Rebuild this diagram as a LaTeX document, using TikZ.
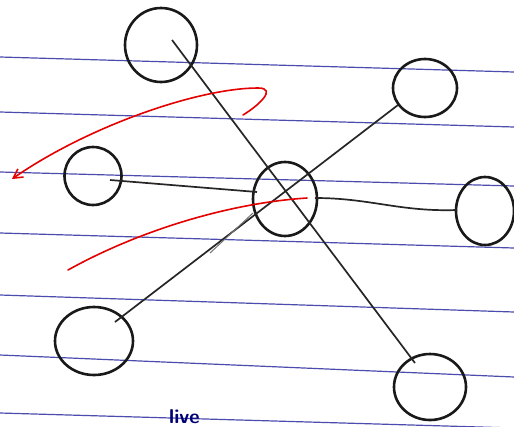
\documentclass[tikz,border=0pt]{standalone}
\usetikzlibrary{shapes.geometric,arrows.meta}
\begin{document}
\begin{tikzpicture}[x=1pt,y=-1pt,
  ruled/.style={draw=blue!55!black!70, line width=1.2pt},
  bubble/.style={draw=black!90, line width=2.6pt, ellipse, inner sep=0pt},
  spoke/.style={draw=black!85, line width=1.7pt},
  redpen/.style={draw=red!90!black, line width=1.6pt, line cap=round}]
\useasboundingbox[fill=white] (0,0) rectangle (514,426);
% notebook ruling
\foreach \a/\b in {57/72,112/127,172/186,233/248,295/312,355/377,413/428}
  \draw[ruled] (0,\a) -- (514,\b);
% bubbles
\node[bubble, minimum width=72pt, minimum height=74pt] (tl) at (161,45) {};
\node[bubble, minimum width=64pt, minimum height=58pt] (tr) at (425,88) {};
\node[bubble, minimum width=57pt, minimum height=58pt] (l) at (93,176) {};
\node[bubble, minimum width=58pt, minimum height=68pt] (r) at (485,211) {};
\node[bubble, minimum width=78pt, minimum height=68pt] (bl) at (94,341) {};
\node[bubble, minimum width=72pt, minimum height=66pt] (br) at (430,387) {};
\node[bubble, minimum width=64pt, minimum height=74pt] (c) at (285,199) {};
% spoke end points
\coordinate (tlA) at (172,40);
\coordinate (brA) at (415,363);
\coordinate (trA) at (398,105);
\coordinate (blA) at (115,322);
\coordinate (lA) at (110,180);
\coordinate (lB) at (257,192);
\coordinate (rA) at (315,198);
\coordinate (rB) at (457,210);
\coordinate (gA) at (210,253);
\coordinate (gB) at (253,213);
\draw[spoke] (tlA) -- (brA);
\draw[spoke] (trA) -- (blA);
\draw[spoke] (lA) -- (lB);
\draw[spoke] (rA) .. controls (370,198) and (400,212) .. (rB);
\draw[spoke, draw=black!55, line width=1pt] (gA) -- (gB);
% red pen strokes
\coordinate (ra) at (243,115);
\coordinate (rb) at (12,179);
\draw[redpen, -{Straight Barb[length=9pt,width=10pt]}] (ra) .. controls (258,106) and (278,88) .. (258,88)
  .. controls (200,88) and (90,125) .. (rb);
\coordinate (rc) at (307,198);
\coordinate (rd) at (68,270);
\draw[redpen] (rc) .. controls (230,203) and (140,230) .. (rd);
% bottom caption
\node[anchor=south west, inner sep=1pt, text=blue!45!black, font=\sffamily\bfseries\fontsize{20}{20}\selectfont] (cap) at (168,425) {live};
\end{tikzpicture}
\end{document}
